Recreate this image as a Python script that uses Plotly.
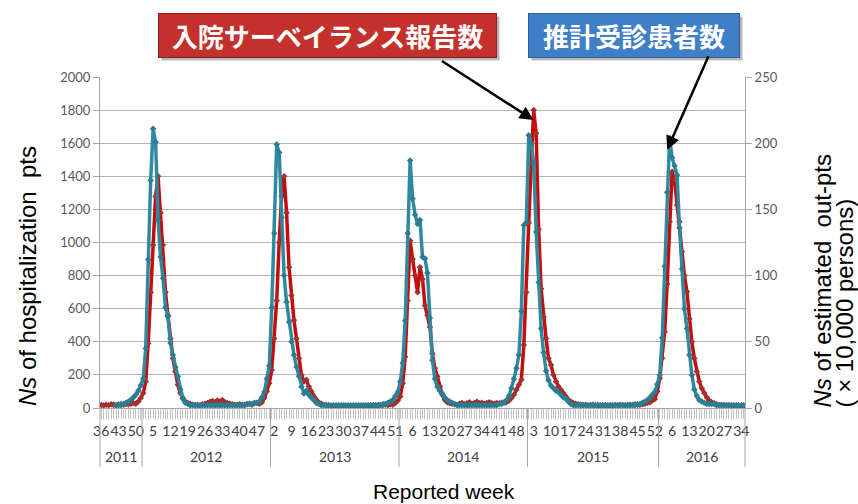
import plotly.graph_objects as go

# ---------------- data ----------------
year_labels = ["2011", "2012", "2013", "2014", "2015", "2016"]
year_first_week = [36, 1, 1, 1, 1, 1]
year_last_week = [52, 52, 52, 52, 53, 35]

# Ns of hospitalization pts (left axis), per reported week
hosp_2011 = [18, 15, 20, 17, 22, 19, 16, 21, 18, 20, 24, 22, 26, 30, 25, 40, 60]
hosp_2012 = [90, 160, 390, 700, 985, 1280, 1400, 1180, 985, 700,
             560, 420, 300, 220, 140, 90, 60, 40, 30, 25,
             20, 18, 20, 15, 22, 25, 30, 38, 42, 35,
             45, 40, 48, 35, 30, 25, 22, 20, 18, 22,
             20, 18, 22, 25, 20, 28, 30, 25, 35, 60,
             100, 150]
hosp_2013 = [230, 420, 650, 1000, 1280, 1400, 1180, 850, 680, 530,
             420, 300, 200, 160, 170, 130, 100, 70, 50, 35,
             25, 20, 18, 15, 12, 14, 12, 10, 12, 10,
             12, 10, 8, 10, 12, 10, 12, 14, 12, 15,
             14, 16, 15, 18, 16, 18, 20, 18, 22, 20,
             30, 45]
hosp_2014 = [70, 150, 310, 650, 1010, 900, 800, 700, 850, 780,
             620, 560, 490, 330, 240, 190, 130, 80, 50, 35,
             28, 25, 22, 20, 25, 30, 22, 28, 35, 25,
             30, 38, 28, 32, 25, 30, 35, 28, 25, 30,
             28, 32, 35, 35, 45, 60, 80, 110, 140, 170,
             380, 700]
hosp_2015 = [1120, 1480, 1800, 1660, 1080, 720, 550, 420, 300, 260,
             200, 160, 130, 110, 90, 70, 50, 40, 30, 25,
             22, 20, 18, 20, 15, 18, 20, 15, 18, 16,
             15, 18, 14, 16, 15, 18, 16, 20, 18, 15,
             18, 20, 18, 22, 20, 20, 22, 25, 30, 35,
             45, 55, 100]
hosp_2016 = [180, 300, 460, 750, 1125, 1427, 1377, 1226, 1125, 944,
             800, 703, 540, 400, 300, 220, 160, 120, 90, 65,
             45, 35, 28, 22, 18, 20, 16, 18, 15, 16,
             14, 15, 12, 14, 10]

# Ns of estimated out-pts (x10,000 persons, right axis)
out_2011 = [None, None, None, None, None, None, 2, 2, 3, 3, 4, 5, 6, 8, 10, 13, 17]
out_2012 = [22, 45, 112, 172, 211, 201, 142, 114, 98, 76,
            69, 49, 40, 31, 24, 14, 7, 4, 3, 2,
            2, 2, 2, 2, 2, 2, 2, 2, 2, 2,
            2, 2, 2, 2, 2, 2, 2, 2, 2, 2,
            2, 2, 3, 3, 3, 4, 4, 5, 8, 12,
            22, 32]
out_2013 = [76, 132, 199, 193, 144, 100, 80, 65, 50, 40,
            31, 24, 16, 11, 13, 10, 8, 6, 4, 3,
            2, 2, 2, 2, 2, 2, 2, 2, 2, 2,
            2, 2, 2, 2, 2, 2, 2, 2, 2, 2,
            2, 2, 2, 2, 2, 3, 3, 4, 5, 6,
            9, 12]
out_2014 = [20, 34, 66, 132, 187, 158, 146, 139, 142, 114,
            113, 102, 68, 36, 22, 16, 13, 11, 8, 6,
            5, 4, 3, 2, 2, 2, 2, 2, 2, 2,
            2, 2, 2, 2, 2, 2, 2, 2, 2, 2,
            3, 3, 4, 6, 9, 15, 22, 30, 40, 73,
            138, 140]
out_2015 = [206, 200, 185, 133, 95, 60, 42, 28, 21, 17,
            15, 13, 12, 10, 8, 7, 5, 3, 2, 2,
            2, 2, 2, 2, 2, 2, 2, 2, 2, 2,
            2, 2, 2, 2, 2, 2, 2, 2, 2, 2,
            2, 2, 2, 2, 3, 3, 4, 5, 6, 8,
            10, 12, 18]
out_2016 = [25, 53, 107, 163, 204, 189, 183, 176, 136, 105,
            75, 60, 40, 25, 14, 9, 6, 5, 4, 3,
            3, 3, 3, 2, 2, 2, 2, 2, 2, 2,
            2, 2, 2, 2, 2]

label_every = 7

# ---------------- build ----------------
hosp = hosp_2011 + hosp_2012 + hosp_2013 + hosp_2014 + hosp_2015 + hosp_2016
outp = out_2011 + out_2012 + out_2013 + out_2014 + out_2015 + out_2016

weeks = []
year_bounds = []
for fw, lw in zip(year_first_week, year_last_week):
    start = len(weeks)
    weeks += list(range(fw, lw + 1))
    year_bounds.append((start, len(weeks) - 1))

n = len(weeks)
x_idx = list(range(n))
ticktext = [str(w) if i % label_every == 0 else "" for i, w in enumerate(weeks)]

RED = "#c50d0d"
RED_M = "#a3302c"
TEAL = "#3189a0"
TEAL_M = "#2a7d92"
GRID = "#b4b4b4"
AXIS = "#a6a6a6"
TXT = "#404040"
FONT = "Lato"

fig = go.Figure()
fig.add_trace(go.Scatter(
    x=x_idx, y=hosp, mode="lines+markers", name="入院サーベイランス報告数",
    line=dict(color=RED, width=3.5),
    marker=dict(symbol="diamond", size=5, color=RED_M),
    yaxis="y"))
fig.add_trace(go.Scatter(
    x=x_idx, y=outp, mode="lines+markers", name="推計受診患者数",
    line=dict(color=TEAL, width=3.5),
    marker=dict(symbol="diamond", size=5, color=TEAL_M),
    yaxis="y2"))

shapes = []
for k, (s, e) in enumerate(year_bounds):
    if k == 0:
        shapes.append(dict(type="line", xref="paper", yref="paper", x0=0, x1=0,
                           y0=0, y1=-0.178, line=dict(color=AXIS, width=1)))
    xb = e + 0.5
    if k == len(year_bounds) - 1:
        shapes.append(dict(type="line", xref="paper", yref="paper", x0=1, x1=1,
                           y0=0, y1=-0.178, line=dict(color=AXIS, width=1)))
    else:
        shapes.append(dict(type="line", xref="x", yref="paper", x0=xb, x1=xb,
                           y0=0, y1=-0.178, line=dict(color=AXIS, width=1)))

annotations = []
for lab, (s, e) in zip(year_labels, year_bounds):
    annotations.append(dict(x=(s + e) / 2, y=-0.148, xref="x", yref="paper",
                            xanchor="center", yanchor="middle",
                            text=lab, showarrow=False,
                            font=dict(family=FONT, size=14, color=TXT)))

# axis titles
annotations.append(dict(
    x=-0.113, y=0.0, xref="paper", yref="paper", xanchor="center", yanchor="bottom",
    textangle=-90, showarrow=False,
    text="<i>Ns</i> of hospitalization  pts",
    font=dict(family="Liberation Sans", size=24, color="black")))
annotations.append(dict(
    x=1.1194, y=-0.006, xref="paper", yref="paper", xanchor="center", yanchor="bottom",
    textangle=-90, showarrow=False,
    text="<i>Ns</i> of estimated  out-pts",
    font=dict(family="Liberation Sans", size=24, color="black")))
annotations.append(dict(
    x=1.1535, y=-0.006, xref="paper", yref="paper", xanchor="center", yanchor="bottom",
    textangle=-90, showarrow=False,
    text="( × 10,000 persons)",
    font=dict(family="Liberation Sans", size=24, color="black")))
annotations.append(dict(
    x=0.533, y=-0.251, xref="paper", yref="paper", xanchor="center", yanchor="middle",
    showarrow=False,
    text="Reported week", font=dict(family="Liberation Sans", size=21, color="black")))

# callout boxes (shadows first)
for cx, w, col, bcol, txt in [
        (0.3527, 333, "#c4302b", "#8e1f1c", "入院サーベイランス報告数"),
        (0.828, 206, "#3f7fc8", "#2b5e98", "推計受診患者数")]:
    annotations.append(dict(
        x=cx, y=1.125, xref="paper", yref="paper", showarrow=False,
        xanchor="center", yanchor="middle",
        xshift=3, yshift=-3, width=w, height=39,
        text=" ", bgcolor="rgba(0,0,0,0.28)", borderpad=2, borderwidth=1,
        bordercolor="rgba(0,0,0,0)"))
    annotations.append(dict(
        x=cx, y=1.125, xref="paper", yref="paper", showarrow=False,
        xanchor="center", yanchor="middle",
        width=w, height=39, text="<b>" + txt + "</b>",
        bgcolor=col, bordercolor=bcol, borderwidth=1, borderpad=2,
        font=dict(family="Noto Sans CJK JP", size=26, color="white")))

# arrows
annotations.append(dict(x=174.9, y=1740, xref="x", yref="y", text="",
                        showarrow=True, arrowhead=2, arrowsize=1.1, arrowwidth=2.5,
                        arrowcolor="black", ax=-93, ay=-60, standoff=0))
annotations.append(dict(x=229.0, y=1560, xref="x", yref="y", text="",
                        showarrow=True, arrowhead=2, arrowsize=1.1, arrowwidth=2.5,
                        arrowcolor="black", ax=42, ay=-95, standoff=0))

fig.update_layout(
    width=858, height=504,
    margin=dict(l=100, r=113, t=77, b=96),
    paper_bgcolor="white", plot_bgcolor="white",
    showlegend=False,
    xaxis=dict(range=[-0.5, n - 0.5], tickmode="array", tickvals=x_idx,
               ticktext=ticktext, ticks="outside", ticklen=10, tickwidth=1,
               tickcolor="#c4c4c4", tickangle=0, showgrid=False, zeroline=False,
               showline=True, linecolor=AXIS, linewidth=1,
               tickfont=dict(family=FONT, size=14, color=TXT)),
    yaxis=dict(range=[0, 2000], tick0=0, dtick=200, showgrid=True,
               gridcolor=GRID, gridwidth=1, zeroline=False, showline=True,
               linecolor=AXIS, ticks="outside", ticklen=6, tickcolor=AXIS,
               tickfont=dict(family=FONT, size=13, color="#595959")),
    yaxis2=dict(range=[0, 250], tick0=0, dtick=50, overlaying="y", side="right",
                showgrid=False, zeroline=False, showline=True, linecolor=AXIS,
                ticks="outside", ticklen=6, tickcolor=AXIS,
                tickfont=dict(family=FONT, size=13, color="#595959")),
    shapes=shapes,
    annotations=annotations,
)

fig.write_html(
    "out.html",
    config={"displayModeBar": False},
    post_script="document.body.style.margin='0';document.body.style.overflow='hidden';",
)
